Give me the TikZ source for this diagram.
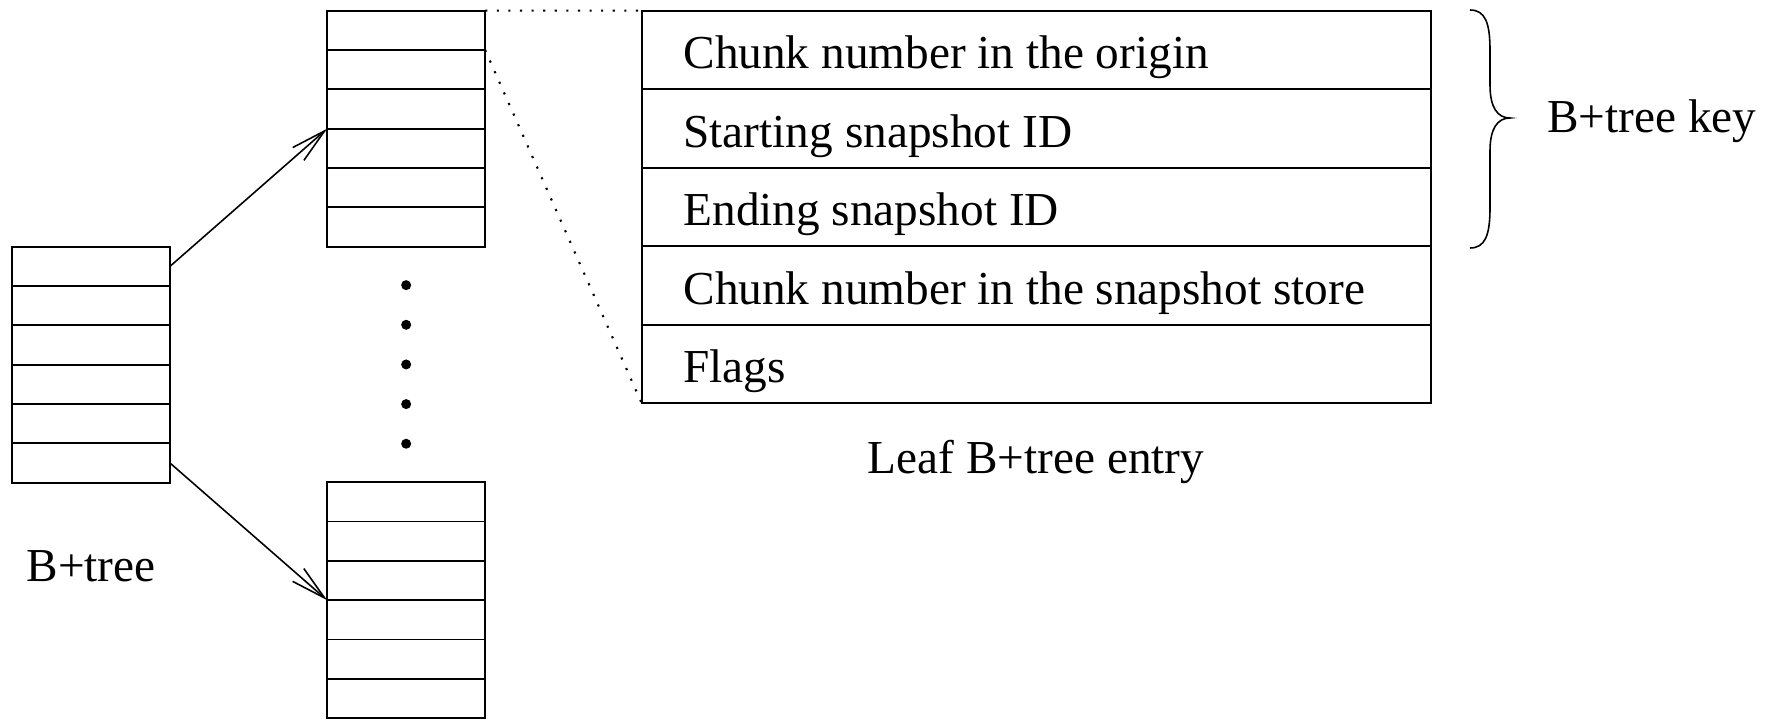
\documentclass[tikz,border=0pt]{standalone}
\usepackage{fontspec}
\setmainfont{Liberation Serif}
\usepackage{tikz}
\usetikzlibrary{calc,arrows.meta}

\tikzset{
	blk/.style={draw, line width=1pt, inner sep=0pt, outer sep=0pt, minimum width=3.16cm, minimum height=4.72cm},
	entrybox/.style={draw, line width=1pt, inner sep=0pt, outer sep=0pt, minimum width=15.78cm, minimum height=7.852cm},
	lbl/.style={inner sep=0pt, font=\fontsize{26.9}{30}\selectfont},
	ptr/.style={line width=0.9pt, -{Straight Barb[length=0.7cm, width=0.34cm]}},
	zoomline/.style={line width=1.2pt, dash pattern=on 1.2pt off 5.4pt}
}

\begin{document}
\begin{tikzpicture}
			%%%%% START %%%%%
			\useasboundingbox (0, 0) rectangle (35.46, 14.4);
			
			% index node and the two leaves
			\node[blk] (root) at (1.82, 7.106) {};
			\node[blk] (leafA) at (8.123, 11.826) {};
			\node[blk] (leafB) at (8.123, 2.396) {};
			
			\foreach \b in {root, leafA, leafB}
				\foreach \k in {1,...,5}
					\draw[line width=1pt] ($(\b.north west)!\k/6!(\b.south west)$) -- ($(\b.north east)!\k/6!(\b.south east)$);
			
			\coordinate (rootTop) at ($(root.north east)!1/12!(root.south east)$);
			\coordinate (rootBot) at ($(root.north east)!11/12!(root.south east)$);
			\draw[ptr] (rootTop) -- (leafA.west);
			\draw[ptr] (rootBot) -- (leafB.west);
			
			% more leaves in between
			\coordinate (gap) at ($(leafA.south)!0.5!(leafB.north)$);
			\foreach \k in {-2,...,2}
				\fill ($(gap)+(0, 0.793*\k)$) circle (0.1);
			
			\node[lbl, anchor=base] (treeName) at (1.82, 2.76) {B+tree};
			
			% one entry of a leaf, blown up
			\node[entrybox] (entry) at (20.724, 10.26) {};
			\foreach \k in {1,...,4}
				\draw[line width=1pt] ($(entry.north west)!\k/5!(entry.south west)$) -- ($(entry.north east)!\k/5!(entry.south east)$);
			
			\foreach \txt [count=\i] in {Chunk number in the origin, Starting snapshot ID, Ending snapshot ID, Chunk number in the snapshot store, Flags}
				\node[lbl, anchor=base west] (field\i) at ($(entry.north west)+(0.83, {-(\i-0.5)*1.5704-0.376})$) {\txt};
			
			\coordinate (leafRow) at ($(leafA.north east)!1/6!(leafA.south east)$);
			\draw[zoomline] (leafA.north east) -- (entry.north west);
			\draw[zoomline] (leafRow) -- (entry.south west);
			
			\node[lbl, anchor=base] (entryName) at (20.72, 4.92) {Leaf B+tree entry};
			
			% brace over the key fields
			\draw[line width=0.9pt] (29.40, 14.20) .. controls (29.70, 14.20) and (29.80, 13.95) .. (29.80, 13.40)
				-- (29.80, 12.70) .. controls (29.80, 12.25) and (29.95, 12.04) .. (30.20, 12.04)
				.. controls (29.95, 12.04) and (29.80, 11.83) .. (29.80, 11.38)
				-- (29.80, 10.24) .. controls (29.80, 9.69) and (29.70, 9.44) .. (29.40, 9.44);
			\node[lbl, anchor=base west] (keyName) at (30.94, 11.746) {B+tree key};
			
			%%%%% END %%%%%
		\end{tikzpicture}
\end{document}
